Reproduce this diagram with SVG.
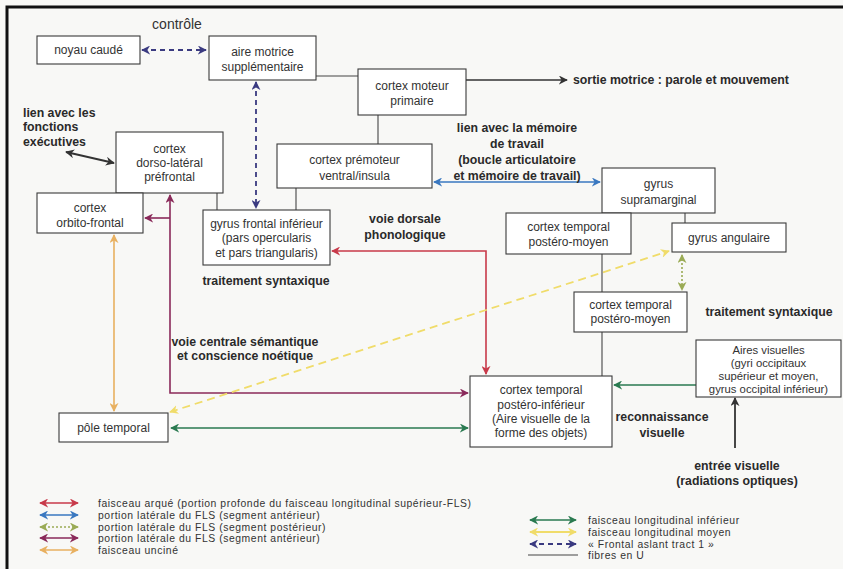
<svg xmlns="http://www.w3.org/2000/svg" width="843" height="569" viewBox="0 0 843 569">
<style>
.box{fill:#fff;stroke:#3a3a3a;stroke-width:1.1}
.t{font-family:"Liberation Sans",Arial,sans-serif;font-size:12px;fill:#333;text-anchor:middle}
.t11{font-family:"Liberation Sans",Arial,sans-serif;font-size:11.3px;fill:#333;text-anchor:middle}
.b{font-family:"Liberation Sans",Arial,sans-serif;font-size:12.3px;font-weight:bold;fill:#2a2a2a;text-anchor:middle}
.bl{font-family:"Liberation Sans",Arial,sans-serif;font-size:12.3px;font-weight:bold;fill:#2a2a2a}
.lg{font-family:"Liberation Sans",Arial,sans-serif;font-size:10.4px;letter-spacing:0.55px;fill:#333}
.u{stroke:#444;stroke-width:1.1;fill:none}
.red{stroke:#c83a4a;stroke-width:1.6;fill:none}
.blue{stroke:#3a78c0;stroke-width:1.6;fill:none}
.olive{stroke:#9aab55;stroke-width:1.6;fill:none;stroke-dasharray:2 2}
.purple{stroke:#8a2a5a;stroke-width:1.6;fill:none}
.orange{stroke:#e8b060;stroke-width:1.6;fill:none}
.green{stroke:#2a7a50;stroke-width:1.6;fill:none}
.yellow{stroke:#f0dc6a;stroke-width:1.8;fill:none;stroke-dasharray:8 5}
.navy{stroke:#3a3a80;stroke-width:1.8;fill:none;stroke-dasharray:5 4}
.blk{stroke:#333;stroke-width:1.8;fill:none}
</style>
<defs>
<marker id="mRed" viewBox="0 0 10 10" refX="9" refY="5" markerWidth="9" markerHeight="9" markerUnits="userSpaceOnUse" orient="auto-start-reverse"><path d="M0,0 L10,5 L0,10 L3,5 Z" fill="#c83a4a"/></marker>
<marker id="mBlue" viewBox="0 0 10 10" refX="9" refY="5" markerWidth="9" markerHeight="9" markerUnits="userSpaceOnUse" orient="auto-start-reverse"><path d="M0,0 L10,5 L0,10 L3,5 Z" fill="#3a78c0"/></marker>
<marker id="mOlive" viewBox="0 0 10 10" refX="9" refY="5" markerWidth="9" markerHeight="9" markerUnits="userSpaceOnUse" orient="auto-start-reverse"><path d="M0,0 L10,5 L0,10 L3,5 Z" fill="#9aab55"/></marker>
<marker id="mPurple" viewBox="0 0 10 10" refX="9" refY="5" markerWidth="9" markerHeight="9" markerUnits="userSpaceOnUse" orient="auto-start-reverse"><path d="M0,0 L10,5 L0,10 L3,5 Z" fill="#8a2a5a"/></marker>
<marker id="mOrange" viewBox="0 0 10 10" refX="9" refY="5" markerWidth="9" markerHeight="9" markerUnits="userSpaceOnUse" orient="auto-start-reverse"><path d="M0,0 L10,5 L0,10 L3,5 Z" fill="#e8b060"/></marker>
<marker id="mGreen" viewBox="0 0 10 10" refX="9" refY="5" markerWidth="9" markerHeight="9" markerUnits="userSpaceOnUse" orient="auto-start-reverse"><path d="M0,0 L10,5 L0,10 L3,5 Z" fill="#2a7a50"/></marker>
<marker id="mYellow" viewBox="0 0 10 10" refX="9" refY="5" markerWidth="9" markerHeight="9" markerUnits="userSpaceOnUse" orient="auto-start-reverse"><path d="M0,0 L10,5 L0,10 L3,5 Z" fill="#f0dc6a"/></marker>
<marker id="mNavy" viewBox="0 0 10 10" refX="9" refY="5" markerWidth="9" markerHeight="9" markerUnits="userSpaceOnUse" orient="auto-start-reverse"><path d="M0,0 L10,5 L0,10 L3,5 Z" fill="#3a3a80"/></marker>
<marker id="mBlk" viewBox="0 0 10 10" refX="9" refY="5" markerWidth="9" markerHeight="9" markerUnits="userSpaceOnUse" orient="auto-start-reverse"><path d="M0,0 L10,5 L0,10 L3,5 Z" fill="#333"/></marker>
</defs>
<rect x="0" y="0" width="843" height="569" fill="#f8f8f6"/>
<path d="M7,569 V7 H843" fill="none" stroke="#111" stroke-width="3"/>

<text x="177" y="29" style="font-family:'Liberation Sans',Arial,sans-serif;font-size:14px;fill:#333;text-anchor:middle">contrôle</text>

<g id="connectors">
<path class="u" d="M316,76 H358"/>
<path class="u" d="M378,115 V144"/>
<path class="u" d="M217,193 V210"/>
<path class="u" d="M296,188 V210"/>
<path class="u" d="M685,213 V223"/>
<path class="u" d="M602,254 V292"/>
<path class="u" d="M602,332 V376"/>
<path class="navy" d="M142,50 H206" marker-start="url(#mNavy)" marker-end="url(#mNavy)"/>
<path class="navy" d="M256,82 V208" marker-start="url(#mNavy)" marker-end="url(#mNavy)"/>
<path class="blk" style="stroke-width:1.3" d="M466,80 H567" marker-end="url(#mBlk)"/>
<path class="blk" d="M66,152 L114,163" marker-start="url(#mBlk)" marker-end="url(#mBlk)"/>
<path class="blk" d="M735,448 V398" marker-end="url(#mBlk)"/>
<path class="blue" d="M434,182 H600" marker-start="url(#mBlue)" marker-end="url(#mBlue)"/>
<path class="red" d="M332,251 H486 V374" marker-start="url(#mRed)" marker-end="url(#mRed)"/>
<path class="purple" d="M170,195 V393 H468" marker-start="url(#mPurple)" marker-end="url(#mPurple)"/>
<path class="purple" d="M170,218 H145" marker-end="url(#mPurple)"/>
<path class="green" d="M171,428 H468" marker-start="url(#mGreen)" marker-end="url(#mGreen)"/>
<path class="green" d="M696,385 H614" marker-end="url(#mGreen)"/>
<path class="orange" d="M114,235 V411" marker-start="url(#mOrange)" marker-end="url(#mOrange)"/>
<path class="yellow" d="M170,412 L669,251" marker-start="url(#mYellow)" marker-end="url(#mYellow)"/>
<path class="olive" d="M682,255 V290" marker-start="url(#mOlive)" marker-end="url(#mOlive)"/>
</g>

<g id="noyau-caude"><rect class="box" x="37" y="36" width="103" height="28"/><text class="t" x="88.5" y="54">noyau caudé</text></g>
<g id="aire-motrice"><rect class="box" x="209" y="36" width="107" height="44"/><text class="t" x="262.5" y="56">aire motrice</text><text class="t" x="262.5" y="71">supplémentaire</text></g>
<g id="cortex-moteur"><rect class="box" x="358" y="69" width="108" height="46"/><text class="t" x="412" y="90">cortex moteur</text><text class="t" x="412" y="105">primaire</text></g>
<g id="premoteur"><rect class="box" x="277" y="144" width="155" height="44"/><text class="t" x="354.5" y="164">cortex prémoteur</text><text class="t" x="354.5" y="180">ventral/insula</text></g>
<g id="dorso-lateral"><rect class="box" x="116" y="132" width="107" height="61"/><text class="t" x="169.5" y="153">cortex</text><text class="t" x="169.5" y="167">dorso-latéral</text><text class="t" x="169.5" y="181">préfrontal</text></g>
<g id="orbito-frontal"><rect class="box" x="37" y="193" width="106" height="40"/><text class="t" x="90" y="212">cortex</text><text class="t" x="90" y="227">orbito-frontal</text></g>
<g id="gyrus-frontal-inf"><rect class="box" x="203" y="210" width="127" height="55"/><text class="t" x="266.5" y="228">gyrus frontal inférieur</text><text class="t" x="266.5" y="242">(pars opercularis</text><text class="t" x="266.5" y="257">et pars triangularis)</text></g>
<g id="supramarginal"><rect class="box" x="602" y="168" width="113" height="45"/><text class="t" x="658.5" y="188">gyrus</text><text class="t" x="658.5" y="204">supramarginal</text></g>
<g id="temporal-postero-moyen-1"><rect class="box" x="506" y="213" width="125" height="41"/><text class="t" x="568.5" y="231">cortex temporal</text><text class="t" x="568.5" y="246">postéro-moyen</text></g>
<g id="gyrus-angulaire"><rect class="box" x="672" y="223" width="114" height="29"/><text class="t" x="729" y="242">gyrus angulaire</text></g>
<g id="temporal-postero-moyen-2"><rect class="box" x="574" y="292" width="113" height="40"/><text class="t" x="630.5" y="309">cortex temporal</text><text class="t" x="630.5" y="323">postéro-moyen</text></g>
<g id="aires-visuelles"><rect class="box" x="696" y="340" width="145" height="57"/><text class="t11" x="768.5" y="354">Aires visuelles</text><text class="t11" x="768.5" y="367">(gyri occipitaux</text><text class="t11" x="768.5" y="380">supérieur et moyen,</text><text class="t11" x="768.5" y="393">gyrus occipital inférieur)</text></g>
<g id="temporal-postero-inf"><rect class="box" x="470" y="376" width="142" height="71"/><text class="t" x="541" y="394">cortex temporal</text><text class="t" x="541" y="409">postéro-inférieur</text><text class="t" x="541" y="423">(Aire visuelle de la</text><text class="t" x="541" y="437">forme des objets)</text></g>
<g id="pole-temporal"><rect class="box" x="59" y="413" width="109" height="29"/><text class="t" x="113.5" y="432">pôle temporal</text></g>

<g id="labels">
<text class="bl" x="573" y="84">sortie motrice : parole et mouvement</text>
<text class="b" x="517" y="132">lien avec la mémoire</text>
<text class="b" x="517" y="148">de travail</text>
<text class="b" x="517" y="164">(boucle articulatoire</text>
<text class="b" x="517" y="180">et mémoire de travail)</text>
<text class="bl" x="23" y="117">lien avec les</text>
<text class="bl" x="23" y="131">fonctions</text>
<text class="bl" x="23" y="146">exécutives</text>
<text class="b" x="405" y="223">voie dorsale</text>
<text class="b" x="405" y="239">phonologique</text>
<text class="b" x="266" y="285">traitement syntaxique</text>
<text class="b" x="245" y="346">voie centrale sémantique</text>
<text class="b" x="245" y="360">et conscience noétique</text>
<text class="b" x="769" y="316">traitement syntaxique</text>
<text class="b" x="662" y="421">reconnaissance</text>
<text class="b" x="662" y="437">visuelle</text>
<text class="b" x="737" y="470">entrée visuelle</text>
<text class="b" x="737" y="485">(radiations optiques)</text>
</g>

<g id="legend">
<path class="red" d="M40,503 H78" marker-start="url(#mRed)" marker-end="url(#mRed)"/>
<text class="lg" x="98" y="507">faisceau arqué (portion profonde du faisceau longitudinal supérieur-FLS)</text>
<path class="blue" d="M40,515 H78" marker-start="url(#mBlue)" marker-end="url(#mBlue)"/>
<text class="lg" x="98" y="519">portion latérale du FLS (segment antérieur)</text>
<path class="olive" d="M40,527 H78" marker-start="url(#mOlive)" marker-end="url(#mOlive)"/>
<text class="lg" x="98" y="530.5">portion latérale du FLS (segment postérieur)</text>
<path class="purple" d="M40,538 H78" marker-start="url(#mPurple)" marker-end="url(#mPurple)"/>
<text class="lg" x="98" y="542">portion latérale du FLS (segment antérieur)</text>
<path class="orange" d="M40,550 H78" marker-start="url(#mOrange)" marker-end="url(#mOrange)"/>
<text class="lg" x="98" y="554">faisceau unciné</text>
<path class="green" d="M530,520 H576" marker-start="url(#mGreen)" marker-end="url(#mGreen)"/>
<text class="lg" x="588" y="524">faisceau longitudinal inférieur</text>
<path class="yellow" style="stroke-dasharray:none" d="M530,532 H576" marker-start="url(#mYellow)" marker-end="url(#mYellow)"/>
<text class="lg" x="588" y="536">faisceau longitudinal moyen</text>
<path class="navy" d="M530,544 H576" marker-start="url(#mNavy)" marker-end="url(#mNavy)"/>
<text class="lg" x="588" y="547.5">« Frontal aslant tract 1 »</text>
<path class="u" d="M528,555 H578"/>
<text class="lg" x="588" y="559">fibres en U</text>
</g>
</svg>
